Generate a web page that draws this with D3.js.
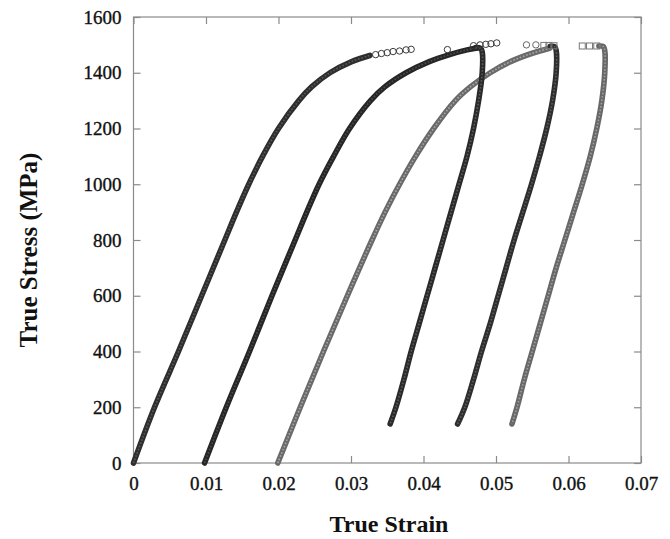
<!DOCTYPE html>
<html>
<head>
<meta charset="utf-8">
<script src="https://cdn.jsdelivr.net/npm/d3@7/dist/d3.min.js"></script>
<style>
  html, body { margin: 0; padding: 0; background: #fff; }
  svg { display: block; }
</style>
</head>
<body>
<svg id="chart" width="670" height="539"></svg>
<script>
// ---- data (true strain, true stress MPa) ----
const strainTicks = [0, 0.01, 0.02, 0.03, 0.04, 0.05, 0.06, 0.07];
const stressTicks = [0, 200, 400, 600, 800, 1000, 1200, 1400, 1600];

const load1 = [[0,0],[0.0029,200],[0.0062,400],[0.0094,600],[0.0126,800],[0.0142,900],[0.0159,1000],[0.0178,1100],[0.0200,1200],[0.0228,1300],[0.0246,1350],[0.0271,1400],[0.0301,1440],[0.0326,1462]];
const load1Tail = [[0.0334,1465],[0.0342,1469],[0.0350,1472],[0.0358,1476],[0.0367,1478],[0.0376,1482],[0.0383,1484]];

const load2 = [[0.0098,0],[0.0128,200],[0.0160,400],[0.0191,600],[0.0223,800],[0.0239,900],[0.0256,1000],[0.0276,1100],[0.0298,1200],[0.0327,1300],[0.0347,1350],[0.0376,1400],[0.0408,1440],[0.0436,1465],[0.0460,1482],[0.0474,1489]];
const load2Tail = [[0.0433,1483],[0.0469,1497],[0.0478,1500],[0.0486,1502],[0.0493,1504],[0.0501,1507]];
const unload1 = [[0.0472,1490],[0.0479,1487],[0.0481,1474],[0.0481,1400],[0.0476,1300],[0.0469,1200],[0.0460,1100],[0.0449,1000],[0.0438,900],[0.0427,800],[0.0416,700],[0.0405,600],[0.0394,500],[0.0383,400],[0.0373,300],[0.0362,200],[0.0354,140]];

const load3 = [[0.0199,0],[0.0230,200],[0.0262,400],[0.0295,600],[0.0329,800],[0.0347,900],[0.0367,1000],[0.0389,1100],[0.0414,1200],[0.0444,1300],[0.0465,1350],[0.0492,1400],[0.0520,1440],[0.0550,1470],[0.0574,1488]];
const load3TailCircles = [[0.0542,1500],[0.0555,1500]];
const load3TailSquares = [[0.0566,1498],[0.0573,1498],[0.0580,1497],[0.0619,1496],[0.0629,1496],[0.0639,1496]];
const unload2 = [[0.0575,1495],[0.0581,1493],[0.0583,1480],[0.0583,1400],[0.0578,1300],[0.0570,1200],[0.0560,1100],[0.0549,1000],[0.0537,900],[0.0525,800],[0.0514,700],[0.0503,600],[0.0492,500],[0.0480,400],[0.0469,300],[0.0457,200],[0.0447,140]];
const unload3 = [[0.0642,1496],[0.0648,1494],[0.0650,1480],[0.0650,1400],[0.0646,1300],[0.0639,1200],[0.0630,1100],[0.0619,1000],[0.0607,900],[0.0595,800],[0.0583,700],[0.0572,600],[0.0561,500],[0.0550,400],[0.0539,300],[0.0529,200],[0.0522,140]];

const series = [
  {name: "load1", data: load1, color: "#2e2e2e", inner: "#5a5a5a"},
  {name: "load2", data: load2, color: "#262626", inner: "#4e4e4e"},
  {name: "load3", data: load3, color: "#6a6a6a", inner: "#a8a8a8"},
  {name: "unload1", data: unload1, color: "#2a2a2a", inner: "#5e5e5e"},
  {name: "unload2", data: unload2, color: "#2e2e2e", inner: "#5e5e5e"},
  {name: "unload3", data: unload3, color: "#686868", inner: "#a0a0a0"}
];

// ---- layout ----
const svg = d3.select("#chart");
const x = d3.scaleLinear().domain([0, 0.07]).range([133.5, 641]);
const y = d3.scaleLinear().domain([0, 1600]).range([463, 17]);
const font = "'Liberation Serif', 'Times New Roman', serif";

// frame
svg.append("rect")
  .attr("x", x(0)).attr("y", y(1600))
  .attr("width", x(0.07) - x(0)).attr("height", y(0) - y(1600))
  .attr("fill", "none").attr("stroke", "#8a8a8a").attr("stroke-width", 1.2);

const fmtX = d => d === 0 ? "0" : d3.format(".2f")(d);

const gx = svg.append("g").attr("transform", `translate(0,${y(0)})`)
  .call(d3.axisBottom(x).tickValues(strainTicks).tickFormat(fmtX).tickSizeInner(-7).tickSizeOuter(0).tickPadding(14));
const gy = svg.append("g").attr("transform", `translate(${x(0)},0)`)
  .call(d3.axisLeft(y).tickValues(stressTicks).tickFormat(d3.format("d")).tickSizeInner(-7).tickSizeOuter(0).tickPadding(12));
const gt = svg.append("g").attr("transform", `translate(0,${y(1600)})`)
  .call(d3.axisTop(x).tickValues(strainTicks).tickFormat("").tickSizeInner(-7).tickSizeOuter(0));
const gr = svg.append("g").attr("transform", `translate(${x(0.07)},0)`)
  .call(d3.axisRight(y).tickValues(stressTicks).tickFormat("").tickSizeInner(-7).tickSizeOuter(0));

[gx, gy, gt, gr].forEach(g => {
  g.select(".domain").remove();
  g.selectAll(".tick line").attr("stroke", "#8a8a8a").attr("stroke-width", 1.2);
  g.selectAll(".tick text").attr("font-family", font).attr("font-size", 19)
    .attr("fill", "#111").attr("stroke", "#111").attr("stroke-width", 0.35);
});

// curves
const line = d3.line().x(d => x(d[0])).y(d => y(d[1])).curve(d3.curveCatmullRom.alpha(0.5));
const curves = svg.append("g");
series.forEach(s => {
  curves.append("path").datum(s.data)
    .attr("d", line).attr("fill", "none")
    .attr("stroke", s.color).attr("stroke-width", 5.6)
    .attr("stroke-linecap", "round").attr("stroke-linejoin", "round");
  curves.append("path").datum(s.data)
    .attr("d", line).attr("fill", "none")
    .attr("stroke", s.inner).attr("stroke-width", 1.6)
    .attr("stroke-dasharray", "1.6,1.8");
});

// sparse end markers
const circ = svg.append("g");
[...load1Tail, ...load2Tail].forEach(d => {
  circ.append("circle").attr("cx", x(d[0])).attr("cy", y(d[1])).attr("r", 3.2)
    .attr("fill", "none").attr("stroke", "#3a3a3a").attr("stroke-width", 1);
});
load3TailCircles.forEach(d => {
  circ.append("circle").attr("cx", x(d[0])).attr("cy", y(d[1])).attr("r", 3.2)
    .attr("fill", "none").attr("stroke", "#666").attr("stroke-width", 1);
});
load3TailSquares.forEach(d => {
  circ.append("rect").attr("x", x(d[0]) - 3).attr("y", y(d[1]) - 3).attr("width", 6).attr("height", 6)
    .attr("fill", "none").attr("stroke", "#777").attr("stroke-width", 1);
});

// axis titles
svg.append("text").attr("x", 389).attr("y", 532).attr("text-anchor", "middle")
  .attr("font-family", font).attr("font-weight", "bold").attr("font-size", 24).attr("fill", "#111")
  .text("True Strain");
svg.append("text").attr("transform", "translate(37,250) rotate(-90)").attr("text-anchor", "middle")
  .attr("font-family", font).attr("font-weight", "bold").attr("font-size", 25).attr("fill", "#111")
  .text("True Stress (MPa)");
</script>
</body>
</html>
